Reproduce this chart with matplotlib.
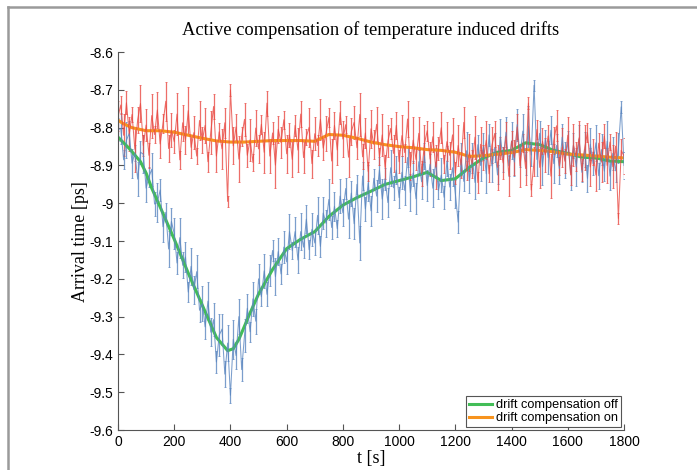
import numpy as np
import matplotlib
matplotlib.use("Agg")
import matplotlib.pyplot as plt
from matplotlib.lines import Line2D

# raw samples, one every 10 s (arrival time in ps)
t_raw = np.arange(0, 1801, 10)

raw_on = [-8.770, -8.740, -8.820, -8.734, -8.817, -8.765, -8.857, -8.779, -8.736, -8.847,
          -8.793, -8.873, -8.768, -8.818, -8.753, -8.843, -8.789, -8.730, -8.855, -8.806,
          -8.837, -8.764, -8.885, -8.787, -8.833, -8.755, -8.852, -8.813, -8.875, -8.781,
          -8.833, -8.794, -8.890, -8.812, -8.744, -8.875, -8.811, -8.856, -8.787, -8.995,
          -8.700, -8.848, -8.798, -8.883, -8.823, -8.778, -8.873, -8.832, -8.892, -8.801,
          -8.856, -8.791, -8.865, -8.735, -8.875, -8.814, -8.899, -8.804, -8.839, -8.779,
          -8.869, -8.819, -8.884, -8.794, -8.859, -8.764, -8.879, -8.824, -8.799, -8.895,
          -8.816, -8.847, -8.778, -8.854, -8.815, -8.773, -8.888, -8.794, -8.859, -8.760,
          -8.830, -8.792, -8.878, -8.810, -8.786, -8.853, -8.765, -8.877, -8.814, -8.916,
          -8.803, -8.844, -8.791, -8.877, -8.819, -8.905, -8.836, -8.802, -8.868, -8.794,
          -8.890, -8.821, -8.866, -8.777, -8.902, -8.833, -8.884, -8.815, -8.921, -8.842,
          -8.808, -8.883, -8.824, -8.904, -8.855, -8.800, -8.896, -8.837, -8.873, -8.819,
          -8.920, -8.847, -8.899, -8.786, -8.913, -8.866, -8.896, -8.825, -8.945, -8.844,
          -8.879, -8.833, -8.922, -8.846, -8.816, -8.905, -8.854, -8.893, -8.823, -8.927,
          -8.836, -8.879, -8.798, -8.901, -8.840, -8.908, -8.735, -8.965, -8.889, -8.805,
          -8.905, -8.836, -8.872, -8.822, -8.928, -8.834, -8.795, -8.901, -8.852, -8.889,
          -8.820, -8.925, -8.846, -8.876, -8.827, -8.912, -8.853, -8.813, -8.904, -8.864,
          -8.925, -8.841, -8.891, -8.822, -8.900, -8.838, -8.903, -8.849, -9.040, -8.860,
          -8.875]

# half length of the scatter bar drawn at each sample
err_on = [0.040, 0.025, 0.055, 0.030, 0.045, 0.020, 0.060, 0.035, 0.050, 0.028,
          0.042, 0.033, 0.058, 0.022, 0.047, 0.038, 0.026, 0.052, 0.036, 0.044,
          0.030, 0.055, 0.024, 0.048, 0.037, 0.062, 0.029, 0.043, 0.021, 0.051,
          0.034, 0.046, 0.027, 0.057, 0.032, 0.041, 0.023, 0.053, 0.039, 0.015,
          0.015, 0.049, 0.035, 0.060, 0.026, 0.044, 0.031, 0.056, 0.022, 0.047,
          0.038, 0.025, 0.054, 0.033, 0.045, 0.029, 0.061, 0.036, 0.042, 0.024,
          0.050, 0.032, 0.046, 0.027, 0.058, 0.034, 0.040, 0.021, 0.052, 0.037,
          0.043, 0.028, 0.055, 0.031, 0.047, 0.025, 0.059, 0.035, 0.041, 0.030,
          0.048, 0.023, 0.053, 0.036, 0.044, 0.029, 0.057, 0.033, 0.039, 0.026,
          0.051, 0.038, 0.045, 0.022, 0.056, 0.032, 0.042, 0.027, 0.049, 0.035,
          0.030, 0.054, 0.024, 0.047, 0.037, 0.060, 0.028, 0.043, 0.033, 0.050,
          0.026, 0.046, 0.039, 0.058, 0.031, 0.041, 0.023, 0.052, 0.036, 0.044,
          0.029, 0.055, 0.034, 0.040, 0.025, 0.049, 0.038, 0.057, 0.027, 0.045,
          0.032, 0.051, 0.022, 0.048, 0.035, 0.059, 0.030, 0.042, 0.037, 0.053,
          0.028, 0.046, 0.033, 0.056, 0.024, 0.043, 0.015, 0.015, 0.039, 0.026,
          0.054, 0.034, 0.045, 0.029, 0.058, 0.036, 0.041, 0.023, 0.052, 0.032,
          0.047, 0.027, 0.055, 0.038, 0.044, 0.030, 0.060, 0.025, 0.049, 0.035,
          0.042, 0.028, 0.053, 0.033, 0.046, 0.021, 0.057, 0.037, 0.015, 0.031,
          0.048]

raw_off = [-8.805, -8.802, -8.885, -8.833, -8.815, -8.894, -8.867, -8.936, -8.865, -8.870,
           -8.960, -8.930, -8.910, -9.002, -8.998, -8.965, -9.062, -9.024, -9.121, -9.048,
           -9.080, -9.158, -9.091, -9.164, -9.142, -9.235, -9.167, -9.229, -9.181, -9.283,
           -9.265, -9.327, -9.259, -9.341, -9.308, -9.420, -9.349, -9.333, -9.452, -9.370,
           -9.508, -9.360, -9.403, -9.300, -9.440, -9.350, -9.278, -9.340, -9.253, -9.312,
           -9.200, -9.247, -9.179, -9.241, -9.178, -9.125, -9.194, -9.128, -9.187, -9.116,
           -9.155, -9.075, -9.125, -9.075, -9.150, -9.075, -9.116, -9.042, -9.123, -9.069,
           -9.105, -9.032, -9.114, -9.026, -9.053, -8.990, -9.064, -9.008, -9.067, -8.981,
           -9.025, -8.961, -9.042, -8.973, -9.054, -8.950, -9.105, -8.928, -9.015, -8.946,
           -9.020, -8.934, -8.981, -8.912, -8.989, -8.935, -8.998, -8.906, -8.959, -8.912,
           -8.985, -8.918, -8.966, -8.879, -8.972, -8.920, -8.988, -8.890, -8.943, -8.875,
           -8.953, -8.897, -8.960, -8.891, -8.966, -8.925, -8.984, -8.888, -8.957, -8.906,
           -8.975, -9.050, -8.883, -8.942, -8.861, -8.940, -8.880, -8.945, -8.845, -8.900,
           -8.850, -8.922, -8.819, -8.901, -8.853, -8.925, -8.824, -8.883, -8.812, -8.901,
           -8.835, -8.891, -8.792, -8.873, -8.809, -8.890, -8.796, -8.872, -8.688, -8.884,
           -8.815, -8.903, -8.831, -8.879, -8.807, -8.895, -8.847, -8.908, -8.825, -8.886,
           -8.838, -8.920, -8.847, -8.904, -8.831, -8.918, -8.858, -8.934, -8.844, -8.895,
           -8.840, -8.927, -8.858, -8.915, -8.836, -8.928, -8.868, -8.914, -8.854, -8.745,
           -8.900]

err_off = [0.030, 0.042, 0.025, 0.048, 0.033, 0.038, 0.022, 0.045, 0.031, 0.050,
           0.036, 0.027, 0.044, 0.032, 0.052, 0.029, 0.040, 0.024, 0.047, 0.035,
           0.041, 0.028, 0.053, 0.034, 0.039, 0.026, 0.049, 0.037, 0.043, 0.030,
           0.046, 0.033, 0.051, 0.038, 0.044, 0.029, 0.055, 0.041, 0.035, 0.048,
           0.020, 0.052, 0.036, 0.047, 0.031, 0.043, 0.038, 0.027, 0.045, 0.033,
           0.039, 0.024, 0.046, 0.032, 0.041, 0.028, 0.050, 0.035, 0.026, 0.043,
           0.031, 0.047, 0.022, 0.040, 0.034, 0.049, 0.029, 0.037, 0.025, 0.044,
           0.032, 0.048, 0.027, 0.042, 0.036, 0.053, 0.030, 0.039, 0.023, 0.046,
           0.035, 0.028, 0.050, 0.033, 0.041, 0.026, 0.045, 0.037, 0.031, 0.048,
           0.040, 0.024, 0.043, 0.034, 0.052, 0.029, 0.038, 0.047, 0.032, 0.036,
           0.027, 0.044, 0.039, 0.025, 0.049, 0.033, 0.041, 0.030, 0.046, 0.035,
           0.042, 0.028, 0.051, 0.036, 0.024, 0.045, 0.031, 0.040, 0.034, 0.048,
           0.037, 0.029, 0.043, 0.026, 0.050, 0.032, 0.039, 0.045, 0.027, 0.041,
           0.035, 0.052, 0.030, 0.044, 0.038, 0.025, 0.047, 0.033, 0.040, 0.028,
           0.049, 0.036, 0.042, 0.031, 0.046, 0.034, 0.054, 0.029, 0.015, 0.045,
           0.032, 0.048, 0.026, 0.043, 0.037, 0.051, 0.030, 0.040, 0.035, 0.047,
           0.028, 0.044, 0.033, 0.050, 0.039, 0.025, 0.046, 0.036, 0.042, 0.031,
           0.048, 0.034, 0.041, 0.027, 0.053, 0.037, 0.044, 0.030, 0.039, 0.015,
           0.035]

# smoothed traces
off_t = [0, 40, 80, 100, 120, 150, 200, 250, 300, 350, 390, 410, 430, 470, 500, 550,
         600, 650, 700, 750, 800, 850, 900, 950, 1000, 1050, 1100, 1150, 1200, 1250,
         1300, 1350, 1400, 1450, 1500, 1550, 1600, 1650, 1700, 1750, 1800]
off_smooth = [-8.825, -8.855, -8.89, -8.92, -8.96, -9.01, -9.095, -9.185, -9.27, -9.355,
              -9.39, -9.385, -9.36, -9.29, -9.24, -9.175, -9.12, -9.095, -9.075, -9.035,
              -9.005, -8.985, -8.968, -8.95, -8.94, -8.93, -8.918, -8.94, -8.935, -8.905,
              -8.88, -8.865, -8.86, -8.84, -8.845, -8.86, -8.868, -8.878, -8.88, -8.888,
              -8.89]

on_t = [0, 20, 50, 100, 150, 200, 250, 300, 350, 400, 450, 500, 550, 600, 650, 700,
        750, 800, 850, 900, 950, 1000, 1050, 1100, 1150, 1200, 1250, 1300, 1350, 1400,
        1450, 1500, 1550, 1600, 1650, 1700, 1750, 1800]
on_smooth = [-8.78, -8.79, -8.80, -8.808, -8.808, -8.812, -8.82, -8.828, -8.835, -8.838,
             -8.838, -8.836, -8.834, -8.834, -8.834, -8.836, -8.818, -8.82, -8.828, -8.838,
             -8.845, -8.85, -8.853, -8.858, -8.86, -8.865, -8.876, -8.874, -8.87, -8.866,
             -8.858, -8.86, -8.864, -8.87, -8.872, -8.875, -8.878, -8.88]

fig = plt.figure(figsize=(6.97, 4.70), dpi=100)
ax = fig.add_axes([0.1693, 0.0851, 0.726, 0.804])

# raw data with scatter bars
ax.errorbar(t_raw, raw_off, yerr=err_off, color='#5a86c0', lw=0.75, elinewidth=0.9,
            capsize=1, capthick=0.6, alpha=0.8)
ax.errorbar(t_raw, raw_on, yerr=err_on, color='#e94a43', lw=0.75, elinewidth=0.9,
            capsize=1, capthick=0.6, alpha=0.8)

# smoothed
ax.plot(off_t, off_smooth, color='#42bd57', lw=2.2, label='drift compensation off')
ax.plot(on_t, on_smooth, color='#f7931e', lw=2.2, label='drift compensation on')

ax.set_xlim(0, 1800)
ax.set_ylim(-9.6, -8.6)
ax.set_xticks(np.arange(0, 1801, 200))
ax.set_yticks(np.arange(-9.6, -8.55, 0.1))
ax.set_yticklabels(['-9.6', '-9.5', '-9.4', '-9.3', '-9.2', '-9.1', '-9',
                    '-8.9', '-8.8', '-8.7', '-8.6'])
ax.spines['top'].set_visible(False)
ax.spines['right'].set_visible(False)
for s in ['left', 'bottom']:
    ax.spines[s].set_color('#555555')
    ax.spines[s].set_linewidth(0.8)
ax.tick_params(direction='in', length=4, width=0.8, color='#555555', labelsize=10)
for lbl in ax.get_xticklabels() + ax.get_yticklabels():
    lbl.set_family('Liberation Sans')

ax.set_title('Active compensation of temperature induced drifts',
             family='Liberation Serif', fontsize=13.3, pad=12)
ax.set_xlabel('t [s]', family='Liberation Serif', fontsize=13, labelpad=1)
ax.set_ylabel('Arrival time [ps]', family='Liberation Serif', fontsize=13, labelpad=0)

leg = ax.legend(loc='lower right', prop={'family': 'Liberation Sans', 'size': 9.2},
                handlelength=1.8, handletextpad=0.3, borderpad=0.25, labelspacing=0.1,
                borderaxespad=0.2, fancybox=False, framealpha=1)
leg.get_frame().set_edgecolor('#555555')
leg.get_frame().set_linewidth(0.8)

# page frame (top and left edge of the scanned figure)
fig.add_artist(Line2D([8 / 697, 8 / 697], [0, 1 - 7 / 470], transform=fig.transFigure,
                      color='#9a9a9a', lw=1.8))
fig.add_artist(Line2D([8 / 697, 1], [1 - 7 / 470, 1 - 7 / 470], transform=fig.transFigure,
                      color='#9a9a9a', lw=1.8))

fig.savefig('out.png', dpi=100)
